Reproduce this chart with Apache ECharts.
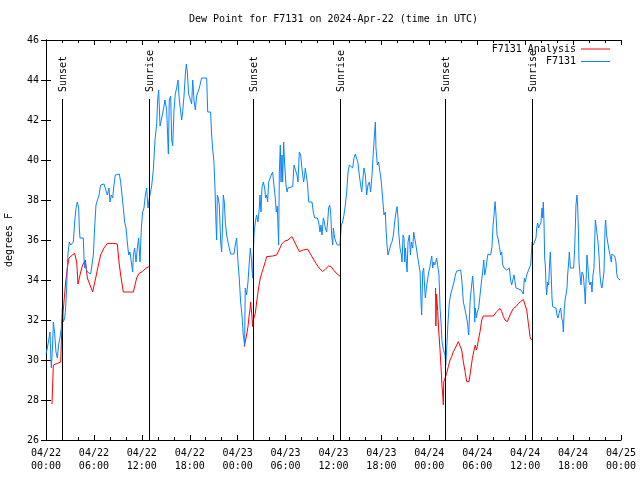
<!DOCTYPE html>
<html>
<head>
<meta charset="utf-8">
<script src="https://cdn.jsdelivr.net/npm/echarts@6/dist/echarts.min.js"></script>
<style>html,body{margin:0;padding:0;background:#fff}#c{width:640px;height:480px}</style>
</head>
<body>
<div id="c"></div>
<script>
// Hours since 2024-04-22 00:00 UTC
const obsHours = [0.00,0.17,0.38,0.50,0.60,0.67,0.83,0.92,1.09,1.25,1.42,1.59,1.75,1.92,2.05,2.17,2.34,2.46,2.59,2.67,2.75,2.92,3.09,3.26,3.42,3.59,3.76,3.92,4.09,4.17,4.26,4.67,4.76,4.84,4.92,5.01,5.18,5.59,5.80,5.93,6.09,6.26,6.43,6.64,6.84,7.05,7.26,7.47,7.68,7.89,8.01,8.18,8.35,8.51,8.68,8.85,9.18,9.35,9.52,9.68,9.85,10.02,10.18,10.35,10.52,10.68,10.85,10.94,11.10,11.27,11.44,11.60,11.77,11.94,12.10,12.27,12.44,12.60,12.77,12.94,
13.23,13.44,13.65,13.86,13.98,14.11,14.28,14.44,14.69,14.90,15.11,15.32,15.44,15.61,15.74,15.86,16.03,16.19,16.36,16.53,16.65,16.78,16.99,17.11,17.28,17.45,17.57,17.70,17.86,18.03,18.24,18.37,18.53,18.70,18.86,19.03,19.20,19.37,19.49,20.12,
20.25,20.61,20.74,20.86,21.03,21.16,21.28,21.37,21.45,21.57,21.70,21.87,21.99,22.12,22.20,22.33,22.45,22.62,22.78,22.95,23.12,23.54,23.70,23.87,24.04,24.20,24.37,24.54,24.70,24.87,24.95,25.12,25.29,25.46,25.58,25.71,25.87,25.96,26.04,26.21,26.37,26.54,26.71,26.79,26.92,27.04,27.21,27.38,27.50,27.63,27.75,27.88,28.04,28.21,28.38,28.54,28.71,28.84,28.96,
29.05,29.13,29.22,29.34,29.43,29.55,29.63,29.76,29.89,30.05,30.18,30.30,30.47,30.89,31.05,31.30,31.43,31.55,31.72,31.89,32.01,32.14,32.26,32.39,32.47,32.64,32.76,32.89,33.06,33.31,33.47,33.64,33.81,33.98,34.14,34.31,34.43,34.56,34.73,34.85,34.98,35.14,35.27,35.39,35.52,35.64,35.77,35.90,35.98,36.15,36.31,36.48,36.81,36.98,37.15,37.31,37.48,37.65,37.82,37.98,38.19,38.40,38.57,38.73,38.90,39.07,39.23,39.40,39.53,39.65,39.82,39.99,40.15,40.32,40.49,40.65,40.82,40.99,41.15,41.24,41.32,41.49,41.65,41.82,41.99,42.15,42.32,42.49,42.57,42.70,42.82,42.99,43.16,43.32,
43.50,43.66,43.83,43.96,44.08,44.16,44.33,44.50,44.58,44.71,44.83,44.92,45.00,45.12,45.21,45.33,45.50,45.63,45.75,45.92,46.04,46.25,46.38,46.50,46.67,46.84,46.96,47.04,47.17,47.29,47.42,47.50,47.63,47.75,47.92,48.05,48.17,48.30,48.42,48.55,48.67,48.80,48.92,49.09,49.21,49.34,49.46,49.59,49.72,49.84,49.97,50.05,50.18,50.34,50.51,50.68,50.93,51.09,51.26,51.43,51.93,52.09,52.26,52.43,52.60,52.76,52.93,53.10,53.26,53.43,53.60,53.68,53.76,53.89,54.01,54.18,54.35,54.52,54.68,54.81,54.93,55.10,55.22,55.35,55.68,55.85,55.98,56.10,56.23,56.35,56.48,56.60,56.77,56.94,57.06,57.19,57.36,57.69,57.86,58.02,
58.18,58.31,58.43,58.60,58.73,58.85,59.10,59.48,59.60,59.77,59.90,60.02,60.19,60.35,60.52,60.69,60.77,60.86,61.02,61.27,61.36,61.44,61.56,61.69,61.86,61.98,62.11,62.19,62.27,62.36,62.44,62.52,62.61,62.69,62.82,62.94,63.07,63.15,63.23,63.36,63.44,63.86,63.99,64.11,64.28,64.44,64.57,64.70,64.78,64.90,65.03,65.11,65.24,65.32,65.45,65.53,65.66,66.07,66.20,66.28,66.36,66.49,66.57,66.66,66.74,66.87,66.99,67.12,67.28,67.45,67.53,67.62,67.74,67.87,67.99,68.12,68.24,68.37,68.49,68.62,68.70,68.79,68.99,69.12,69.24,69.37,69.50,69.62,69.79,69.87,70.00,70.08,70.20,70.33,70.45,70.62,70.79,70.87,71.04,71.21,71.37,71.46,71.58,71.71,71.90];

const obsValues = [30.3,30.6,31.1,31.4,30.2,29.6,30.8,31.9,31.3,30.4,30.1,30.8,31.1,31.6,32.6,31.9,32.1,32.6,33.6,34.6,35.3,35.9,35.75,35.7,35.9,36.9,37.6,37.9,37.6,36.6,36.1,36.1,35.1,34.6,34.9,34.6,34.4,34.3,34.3,35.25,36.6,37.75,37.8,38.25,38.75,38.8,38.8,38.75,38.25,38.6,37.9,38.25,38.1,38.75,39.25,39.3,39.3,38.9,38.25,37.6,36.9,36.6,35.9,35.25,35.4,34.9,34.4,35.25,35.6,34.9,35.6,36.1,34.9,36.6,37.4,37.6,38.25,38.6,37.6,38.1,
38.7,39.5,41.0,41.8,43.0,43.5,41.7,42.0,42.5,43.0,42.5,40.3,43.0,43.2,41.0,40.7,42.5,43.3,43.6,44.0,43.2,42.7,42.0,42.4,43.2,44.3,44.8,44.4,43.3,43.2,42.8,44.0,43.0,42.5,43.2,43.3,43.6,43.9,44.1,44.1,
42.4,42.4,41.25,40.6,39.9,38.6,36.9,36.0,38.25,38.1,37.75,35.9,35.4,36.9,38.25,37.9,36.9,36.25,35.9,35.6,35.3,35.3,35.75,36.1,34.9,34.1,32.9,32.25,31.25,30.75,33.6,33.25,33.9,34.9,35.6,35.1,34.1,34.2,36.25,36.9,37.25,36.9,37.6,38.25,37.4,38.6,38.9,38.6,38.1,38.25,37.9,38.9,38.9,39.25,39.4,38.75,38.1,37.4,37.7,
36.75,35.75,39.4,40.75,38.9,40.25,38.9,40.9,39.75,38.75,38.4,38.6,38.67,38.67,39.75,39.75,39.25,38.9,40.4,40.25,39.75,39.25,38.9,39.25,39.6,39.1,38.75,37.9,38.0,37.9,37.4,37.1,37.0,37.1,36.9,36.4,36.75,36.25,37.1,36.9,36.6,36.4,36.9,37.6,37.75,37.4,36.25,35.75,36.6,36.1,35.9,35.75,35.75,36.75,36.9,37.25,37.75,38.4,39.4,39.75,39.75,39.6,40.1,40.3,40.25,39.85,39.25,38.75,38.4,38.9,39.6,39.25,38.25,38.75,38.9,38.4,39.25,40.4,41.4,41.9,40.6,39.75,39.9,39.4,38.9,38.1,37.25,37.4,36.6,35.75,35.25,35.25,35.75,35.9,
36.25,36.9,37.4,37.67,37.1,36.4,35.6,35.25,34.9,36.25,36.1,34.9,35.6,34.9,34.4,35.9,36.25,35.25,35.9,35.6,36.4,36.4,35.6,35.25,35.2,34.4,32.9,32.25,34.4,34.6,33.6,33.1,33.6,33.6,34.4,34.6,34.9,35.2,34.6,34.9,34.75,34.9,35.1,35.2,34.25,32.6,31.9,30.9,30.6,30.4,30.25,29.75,30.6,31.9,32.9,33.3,33.4,33.9,34.25,34.45,34.5,33.9,32.9,32.6,32.25,31.9,31.25,32.9,33.6,34.2,33.25,31.9,32.6,32.1,32.4,32.6,33.25,33.9,34.4,35.0,34.25,34.6,35.0,35.3,35.25,35.67,36.75,37.25,37.92,37.25,36.25,36.1,35.67,35.25,35.4,34.75,34.6,34.5,34.4,34.6,
34.0,33.75,33.75,34.25,34.25,33.6,33.5,33.5,33.4,33.3,34.1,33.9,34.25,34.25,34.6,34.75,35.25,35.9,35.75,35.75,36.1,36.6,36.85,36.6,36.6,36.9,37.6,37.1,37.9,36.9,35.1,34.75,33.75,33.25,33.9,33.75,34.9,35.4,34.6,33.1,32.67,32.6,32.25,32.1,32.4,32.6,32.1,31.9,31.4,32.6,33.1,33.25,33.6,34.25,34.9,35.4,34.6,34.6,35.6,36.6,37.75,38.25,37.75,36.6,34.9,34.25,33.75,34.4,34.25,33.4,32.8,33.9,35.25,34.6,33.9,33.75,33.9,33.4,34.25,34.6,35.9,37.0,37.0,35.9,35.25,34.25,33.75,33.6,33.6,34.4,36.6,37.0,36.25,35.9,35.6,35.25,34.9,35.3,35.25,35.2,34.9,34.33,34.1,34.1,34.0];

// Analysis series (null = gap between nightly runs)
const anaHours = [0.75,0.90,0.92,1.84,2.00,2.25,2.46,2.67,2.88,3.30,3.59,3.84,4.01,4.34,4.59,4.93,5.18,5.84,6.22,6.64,6.84,7.26,7.68,7.89,8.51,8.93,9.14,9.35,9.68,10.94,11.35,11.64,12.06,12.48,12.90,
12.95,
24.83,24.95,25.12,25.29,25.42,25.54,25.62,25.70,25.79,25.87,25.95,26.08,26.21,26.38,26.58,26.79,27.00,27.21,27.46,27.63,28.40,28.88,29.30,29.51,29.92,30.30,30.80,31.00,31.25,31.72,32.20,32.76,33.00,33.40,33.81,34.20,34.64,35.00,35.40,35.69,36.20,36.86,
36.90,
48.78,48.82,48.90,49.05,49.17,49.34,49.46,49.59,49.67,49.76,49.80,49.92,50.05,50.17,50.38,50.59,50.80,51.01,51.22,51.43,51.63,51.84,52.05,52.26,52.47,52.68,52.97,53.18,53.39,53.60,53.76,53.89,54.01,54.14,54.35,54.56,54.76,56.02,56.43,56.85,57.06,57.27,57.48,57.77,58.10,58.52,58.86,59.15,59.44,59.77,59.98,60.19,60.40,60.61,60.73,60.90];
const anaValues = [27.8,27.8,29.75,29.9,31.8,32.9,33.9,34.6,35.1,35.25,35.33,34.9,33.8,34.4,34.75,35.0,34.1,33.4,34.1,34.9,35.25,35.6,35.83,35.88,35.83,35.8,34.9,34.25,33.4,33.4,34.1,34.33,34.42,34.58,34.67,
null,
30.67,30.67,31.25,31.67,32.17,32.5,32.9,32.9,32.2,31.67,32.0,31.9,32.33,32.9,33.5,34.0,34.33,34.58,34.92,35.17,35.2,35.25,35.6,35.8,35.95,36.0,36.17,36.1,35.8,35.42,35.5,35.55,35.45,35.1,34.83,34.6,34.42,34.55,34.7,34.67,34.4,34.17,
null,
33.6,31.7,33.3,32.42,31.5,30.5,29.67,28.67,28.3,27.75,28.9,28.8,29.0,29.33,29.67,30.0,30.17,30.42,30.58,30.75,30.92,30.92,30.5,29.92,29.42,28.92,28.92,29.5,30.08,30.5,30.75,30.5,30.67,31.0,31.42,32.0,32.2,32.2,32.42,32.58,32.42,32.17,32.0,31.92,32.25,32.58,32.67,32.83,32.92,33.03,33.0,32.5,31.83,31.17,31.03,31.03];

const sunHours = [2.04, 12.93, 25.96, 36.85, 50.0, 60.87];
const sunLabels = ['Sunset', 'Sunrise', 'Sunset', 'Sunrise', 'Sunset', 'Sunrise'];
const SUN_LINE_TOP = 43.05;

const FONT = '"DejaVu Sans Mono", "Liberation Mono", monospace';

function pad(n) { return (n < 10 ? '0' : '') + n; }
function xLabel(h) {
  const day = 22 + Math.floor(h / 24);
  const hh = Math.round(h % 24);
  return '04/' + pad(day) + '\n' + pad(hh) + ':00';
}

const obsData = obsHours.map((h, i) => [h, obsValues[i]]);
const anaData = anaHours.map((h, i) => [h, anaValues[i] === null ? '-' : anaValues[i]]);
const sunData = sunHours.map(h => [h, 26]);

const chart = echarts.init(document.getElementById('c'), null, { renderer: 'canvas' });

const xCommon = {
  type: 'value', min: 0, max: 72, interval: 6,
  axisLine: { show: true, lineStyle: { color: '#000', width: 1 } },
  axisTick: { show: true, inside: true, length: 5, lineStyle: { color: '#000' } },
  minorTick: { show: true, splitNumber: 3, length: 3, lineStyle: { color: '#000' } },
  splitLine: { show: false }, minorSplitLine: { show: false }
};
const yCommon = {
  type: 'value', min: 26, max: 46, interval: 2,
  axisLine: { show: true, lineStyle: { color: '#000', width: 1 } },
  axisTick: { show: true, inside: true, length: 5, lineStyle: { color: '#000' } },
  splitLine: { show: false }
};

chart.setOption({
  animation: false,
  backgroundColor: '#fff',
  title: {
    text: 'Dew Point for F7131 on 2024-Apr-22 (time in UTC)',
    left: 333.5, top: 14, textAlign: 'center', padding: 0,
    textStyle: { fontFamily: FONT, fontSize: 10, fontWeight: 'normal', color: '#000' }
  },
  grid: { left: 46, right: 19, top: 40, bottom: 40, containLabel: false, outerBoundsMode: 'none' },
  legend: [
    { data: ['F7131 Analysis'], right: 30, top: 44, padding: 0, align: 'right', orient: 'vertical',
      icon: 'rect', itemWidth: 29, itemHeight: 1, itemGap: 0,
      textStyle: { fontFamily: FONT, fontSize: 10, color: '#000' } },
    { data: ['F7131'], right: 30, top: 56.5, padding: 0, align: 'right', orient: 'vertical',
      icon: 'rect', itemWidth: 29, itemHeight: 1, itemGap: 0,
      textStyle: { fontFamily: FONT, fontSize: 10, color: '#000' } }
  ],
  xAxis: [
    Object.assign({}, xCommon, {
      position: 'bottom',
      axisLabel: { show: true, formatter: xLabel, fontFamily: FONT, fontSize: 10, color: '#000',
        margin: 7, lineHeight: 13, showMinLabel: true, showMaxLabel: true, hideOverlap: false }
    }),
    Object.assign({}, xCommon, { position: 'top', axisLabel: { show: false } })
  ],
  yAxis: [
    Object.assign({}, yCommon, {
      position: 'left',
      name: 'degrees F', nameLocation: 'middle', nameRotate: 90, nameGap: 32,
      nameTextStyle: { fontFamily: FONT, fontSize: 10, color: '#000' },
      axisLabel: { show: true, fontFamily: FONT, fontSize: 10, color: '#000', margin: 7 }
    }),
    Object.assign({}, yCommon, { position: 'right', axisLabel: { show: false } })
  ],
  series: [
    {
      name: 'F7131 Analysis', type: 'line', data: anaData, xAxisIndex: 0, yAxisIndex: 0,
      symbol: 'none', connectNulls: false, color: '#ff0000',
      lineStyle: { color: '#ff0000', width: 1 }, z: 2
    },
    {
      name: 'F7131', type: 'line', data: obsData, xAxisIndex: 0, yAxisIndex: 0,
      symbol: 'none', color: '#0a84ff',
      lineStyle: { color: '#0a84ff', width: 1 }, z: 3
    },
    {
      name: 'sun', type: 'custom', data: sunData, xAxisIndex: 0, yAxisIndex: 0, z: 4,
      renderItem: function (params, api) {
        const h = api.value(0);
        const p0 = api.coord([h, 26]);
        const p1 = api.coord([h, SUN_LINE_TOP]);
        const x = Math.round(p0[0]) + 0.5;
        return {
          type: 'group',
          children: [
            { type: 'line', shape: { x1: x, y1: p0[1], x2: x, y2: p1[1] },
              style: { stroke: '#000', lineWidth: 1 } },
            { type: 'text', x: x + 1, y: p1[1] - 7, rotation: Math.PI / 2,
              style: { text: sunLabels[params.dataIndex], fontFamily: FONT, fontSize: 10,
                fill: '#000', align: 'left', verticalAlign: 'middle' } }
          ]
        };
      }
    }
  ]
});
</script>
</body>
</html>
